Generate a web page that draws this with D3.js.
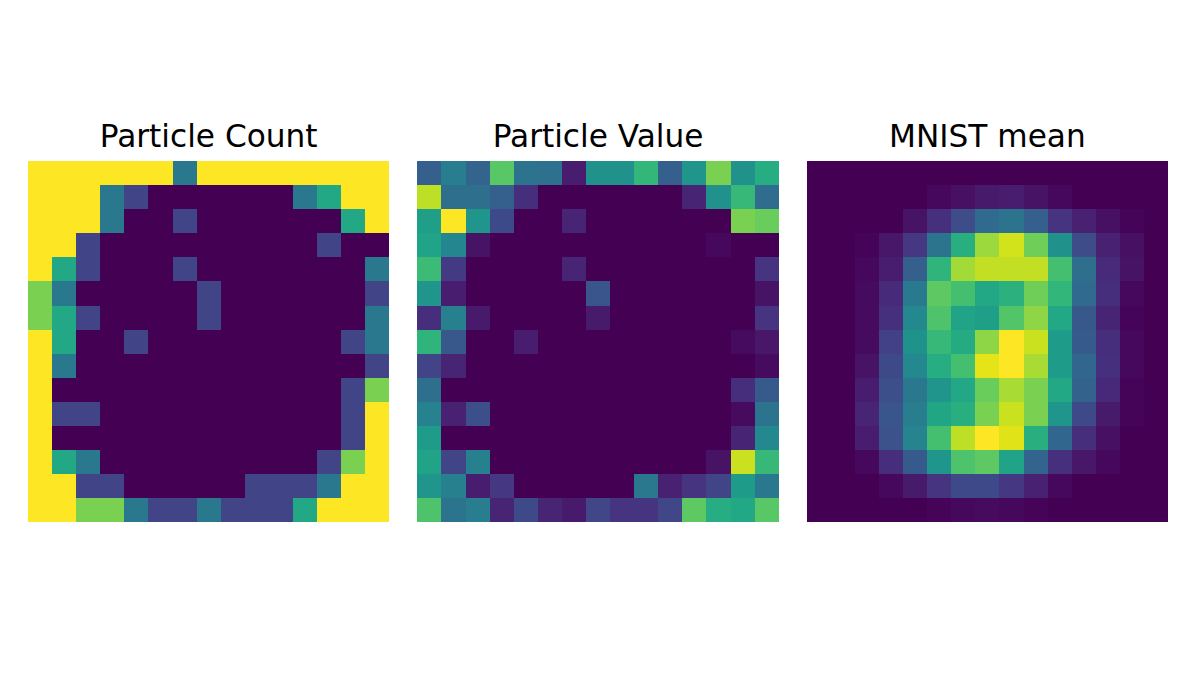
<!DOCTYPE html>
<html><head><meta charset="utf-8">
<script src="https://cdn.jsdelivr.net/npm/d3@7/dist/d3.min.js"></script>
<style>html,body{margin:0;padding:0;background:#fff}svg{display:block}</style>
</head><body><svg id="c" width="1196" height="684"></svg>
<script>
const rowsIdx = d3.range(15);
const titles = ["Particle Count","Particle Value","MNIST mean"];
const particleCount = [
[5,5,5,5,5,5,2,5,5,5,5,5,5,5,5],
[5,5,5,2,1,0,0,0,0,0,0,2,3,5,5],
[5,5,5,2,0,0,1,0,0,0,0,0,0,3,5],
[5,5,1,0,0,0,0,0,0,0,0,0,1,0,0],
[5,3,1,0,0,0,1,0,0,0,0,0,0,0,2],
[4,2,0,0,0,0,0,1,0,0,0,0,0,0,1],
[4,3,1,0,0,0,0,1,0,0,0,0,0,0,2],
[5,3,0,0,1,0,0,0,0,0,0,0,0,1,2],
[5,2,0,0,0,0,0,0,0,0,0,0,0,0,1],
[5,0,0,0,0,0,0,0,0,0,0,0,0,1,4],
[5,1,1,0,0,0,0,0,0,0,0,0,0,1,5],
[5,0,0,0,0,0,0,0,0,0,0,0,0,1,5],
[5,3,2,0,0,0,0,0,0,0,0,0,1,4,5],
[5,5,1,1,0,0,0,0,0,1,1,1,2,5,5],
[5,5,4,4,2,1,1,2,1,1,1,3,5,5,5]];
const particleValue = [
[.3,.42,.32,.74,.38,.37,.08,.5,.5,.66,.3,.52,.8,.5,.62],
[.9,.36,.36,.3,.13,0,0,0,0,0,0,.1,.5,.67,.35],
[.56,1,.52,.22,0,0,.1,0,0,0,0,0,0,.8,.77],
[.58,.46,.05,0,0,0,0,0,0,0,0,0,.02,0,0],
[.68,.17,0,0,0,0,.1,0,0,0,0,0,0,0,.15],
[.52,.08,0,0,0,0,0,.26,0,0,0,0,0,0,.05],
[.13,.43,.07,0,0,0,0,.07,0,0,0,0,0,0,.15],
[.65,.27,0,0,.08,0,0,0,0,0,0,0,0,.03,.06],
[.2,.1,0,0,0,0,0,0,0,0,0,0,0,0,.03],
[.36,0,0,0,0,0,0,0,0,0,0,0,0,.13,.28],
[.44,.09,.24,0,0,0,0,0,0,0,0,0,0,.03,.38],
[.55,0,0,0,0,0,0,0,0,0,0,0,0,.1,.47],
[.58,.2,.43,0,0,0,0,0,0,0,0,0,.05,.92,.67],
[.52,.43,.08,.16,0,0,0,0,0,.4,.09,.15,.2,.55,.4],
[.72,.38,.42,.1,.22,.1,.07,.21,.15,.15,.21,.75,.62,.6,.74]];
const mnistMean = [
[0,0,0,0,0,0,0,0,0,0,0,0,0,0,0],
[0,0,0,0,0,.02,.04,.07,.08,.05,.02,0,0,0,0],
[0,0,0,0,.05,.14,.23,.34,.38,.3,.15,.09,.04,.01,0],
[0,0,.01,.06,.16,.38,.63,.85,.93,.78,.5,.23,.09,.04,0],
[0,0,.02,.08,.3,.65,.86,.91,.91,.91,.7,.36,.12,.05,0],
[0,0,.03,.12,.41,.75,.7,.6,.64,.78,.66,.34,.13,.02,0],
[0,0,.03,.14,.47,.72,.58,.56,.73,.83,.6,.27,.1,.01,0],
[0,0,.03,.19,.51,.67,.61,.83,1,.92,.55,.28,.13,.02,0],
[0,0,.05,.22,.47,.62,.7,.96,1,.87,.55,.33,.14,.02,0],
[0,0,.08,.24,.4,.52,.6,.77,.87,.8,.6,.31,.11,.01,0],
[0,0,.1,.26,.42,.59,.63,.8,.92,.8,.52,.22,.07,.01,0],
[0,0,.08,.25,.45,.7,.9,1,.95,.63,.33,.13,.04,0,0],
[0,0,.02,.13,.28,.52,.72,.75,.58,.32,.14,.06,.02,0,0],
[0,0,0,.02,.07,.15,.22,.22,.16,.09,.02,0,0,0,0],
[0,0,0,0,0,.01,.02,.03,.02,.01,0,0,0,0,0]];

const grids = [particleCount, particleValue, mnistMean];
const lefts = [28, 417.4, 806.8];
const side = 361.3, top0 = 161;
const svg = d3.select("#c");
const blur = svg.append("defs").append("filter").attr("id","soft")
  .attr("color-interpolation-filters","sRGB")
  .attr("x","-2%").attr("y","-2%").attr("width","104%").attr("height","104%");
blur.append("feGaussianBlur").attr("stdDeviation",0.45);
grids.forEach((grid,i)=>{
  const x = d3.scaleBand().domain(rowsIdx).range([lefts[i], lefts[i]+side]);
  const y = d3.scaleBand().domain(rowsIdx).range([top0, top0+side]);
  const color = d3.scaleSequential(d3.interpolateViridis).domain([0, d3.max(grid.flat())]);
  const g = svg.append("g").attr("filter","url(#soft)");
  g.selectAll("rect").data(grid.flatMap((r,ri)=>r.map((v,ci)=>({v,ri,ci})))).join("rect")
    .attr("x",d=>x(d.ci)).attr("y",d=>y(d.ri))
    .attr("width",d=>x.bandwidth()+(d.ci<14?1:0)).attr("height",d=>y.bandwidth()+(d.ri<14?1:0))
    .attr("shape-rendering","crispEdges")
    .attr("fill",d=>color(d.v));
  svg.append("text").attr("x",lefts[i]+side/2).attr("y",146.5)
    .attr("text-anchor","middle")
    .attr("font-family","'DejaVu Sans'").attr("font-size",31.2)
    .attr("fill","#000").text(titles[i]);
});
</script></body></html>
